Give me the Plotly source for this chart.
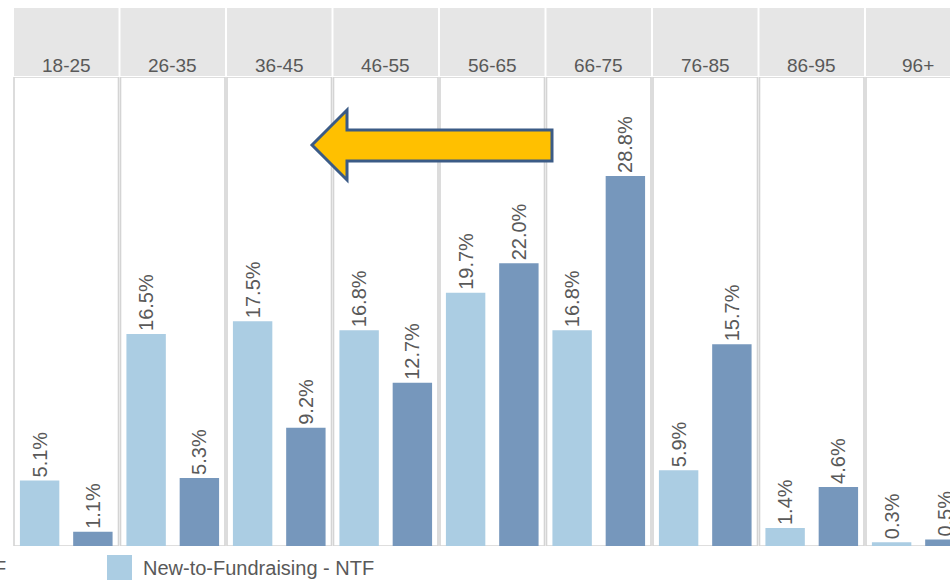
import plotly.graph_objects as go

# Age bands and share of each group (percent)
age_bands = ["18-25", "26-35", "36-45", "46-55", "56-65", "66-75", "76-85", "86-95", "96+"]
ntf_share = [5.1, 16.5, 17.5, 16.8, 19.7, 16.8, 5.9, 1.4, 0.3]
other_share = [1.1, 5.3, 9.2, 12.7, 22.0, 28.8, 15.7, 4.6, 0.5]
ntf_name = "New-to-Fundraising - NTF"

W, H = 950, 582
ML, MR, MT, MB = 13, 0, 77, 36
PW = W - ML - MR
PH = H - MT - MB
PANEL = 106.5                      # pixels per age band
X_MAX = -0.5 + PW / PANEL
Y_MAX = 36.5

LIGHT = "#abcde3"
DARK = "#7697bc"
TXT = "#595959"
FONT = "Liberation Sans, Arial, sans-serif"


def paper_x(px):
    return (px - ML) / PW


def paper_y(py):
    return (MT + PH - py) / PH


fig = go.Figure()

common = dict(
    x=age_bands,
    width=0.37,
    texttemplate="%{y:.1f}%",
    textposition="outside",
    textangle=-90,
    constraintext="none",
    cliponaxis=False,
    textfont=dict(size=20, color=TXT, family=FONT),
    showlegend=False,
    hoverinfo="x+y",
)
fig.add_trace(go.Bar(y=ntf_share, offset=-0.435, marker=dict(color=LIGHT, line=dict(width=0)),
                     name=ntf_name, **common))
fig.add_trace(go.Bar(y=other_share, offset=0.065, marker=dict(color=DARK, line=dict(width=0)),
                     name="Other", **common))

shapes = []
annotations = []
inset = 1.0 / PANEL
for i, band in enumerate(age_bands):
    # header cell
    shapes.append(dict(type="rect", xref="x", yref="paper",
                       x0=i - 0.5 + inset, x1=i + 0.5 - inset,
                       y0=paper_y(76), y1=paper_y(8),
                       fillcolor="#e6e6e6", line=dict(width=0), layer="below"))
    # panel frame
    shapes.append(dict(type="rect", xref="x", yref="y",
                       x0=i - 0.5 + inset, x1=i + 0.5 - inset,
                       y0=0, y1=Y_MAX,
                       fillcolor="rgba(0,0,0,0)", line=dict(color="#d4d4d4", width=1.6),
                       layer="below"))
    annotations.append(dict(text=band, xref="x", yref="paper", x=i, y=paper_y(65),
                            xanchor="center", yanchor="middle", showarrow=False,
                            font=dict(size=19, color=TXT, family=FONT)))

# pointing arrow
arrow_pts = [(312, 145), (347, 110), (347, 130), (552, 130),
             (552, 161), (347, 161), (347, 180)]
path = "M " + " L ".join(f"{paper_x(x):.5f},{paper_y(y):.5f}" for x, y in arrow_pts) + " Z"
shapes.append(dict(type="path", xref="paper", yref="paper", path=path,
                   fillcolor="#ffc000", line=dict(color="#3b5b86", width=3), layer="above"))

# legend
shapes.append(dict(type="rect", xref="paper", yref="paper",
                   x0=paper_x(107), x1=paper_x(132), y0=paper_y(580), y1=paper_y(555),
                   fillcolor=LIGHT, line=dict(width=0)))
annotations.append(dict(text=ntf_name, xref="paper", yref="paper",
                        x=paper_x(141), y=paper_y(568), xanchor="left", yanchor="middle",
                        showarrow=False, font=dict(size=20, color=TXT, family=FONT)))
annotations.append(dict(text="F", xref="paper", yref="paper",
                        x=paper_x(8), y=paper_y(568), xanchor="right", yanchor="middle",
                        showarrow=False, font=dict(size=20, color=TXT, family=FONT)))

fig.update_layout(
    width=W, height=H,
    margin=dict(l=ML, r=MR, t=MT, b=MB),
    paper_bgcolor="white", plot_bgcolor="white",
    barmode="overlay",
    xaxis=dict(type="category", range=[-0.5, X_MAX], showticklabels=False, showgrid=False,
               zeroline=False, showline=False, ticks="", fixedrange=True),
    yaxis=dict(range=[0, Y_MAX], showticklabels=False, showgrid=False, zeroline=False,
               showline=False, ticks="", fixedrange=True),
    shapes=shapes,
    annotations=annotations,
    font=dict(family=FONT),
)

fig.write_html("out.html")
